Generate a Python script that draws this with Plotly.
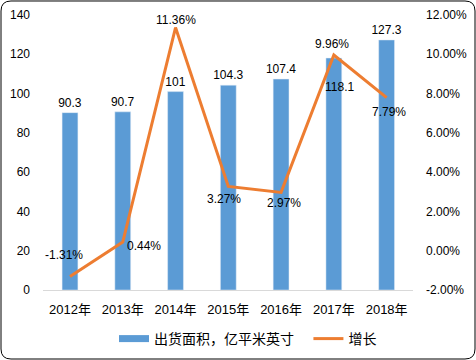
import plotly.graph_objects as go

years = ["2012年", "2013年", "2014年", "2015年", "2016年", "2017年", "2018年"]
area = [90.3, 90.7, 101, 104.3, 107.4, 118.1, 127.3]
growth = [-1.31, 0.44, 11.36, 3.27, 2.97, 9.96, 7.79]
left_ticks = [0, 20, 40, 60, 80, 100, 120, 140]
right_ticks = [-2, 0, 2, 4, 6, 8, 10, 12]

BLUE = "#5B9BD5"
ORANGE = "#ED7D31"
FONT = "Liberation Sans, Noto Sans CJK SC, sans-serif"

W, H = 476, 360
ML, MR, MT, MB = 43, 63, 15, 70
PW, PH = W - ML - MR, H - MT - MB

# label offsets (pixels) for the growth labels
line_shift = [(-6, 21), (21, -4), (0, 8), (-4, -13), (3, -11), (-2, 11), (2, -14)]

bar_pos = ["none" if i == 5 else "outside" for i in range(len(area))]

fig = go.Figure()
fig.add_trace(go.Bar(
    x=years, y=area, name="出货面积，亿平米英寸", showlegend=False,
    marker_color=BLUE, text=[f"{v:g}" for v in area],
    textposition=bar_pos, textfont=dict(color="#000", size=12, family=FONT),
    constraintext="none", cliponaxis=False, yaxis="y",
))
# legend proxy so the bar series shows a wide swatch like the original
fig.add_trace(go.Scatter(
    x=[None], y=[None], name="出货面积，亿平米英寸\u00a0\u00a0\u00a0", mode="lines",
    line=dict(color=BLUE, width=7), yaxis="y", hoverinfo="skip",
))
fig.add_trace(go.Scatter(
    x=years, y=growth, name="增长", mode="lines",
    line=dict(color=ORANGE, width=3), cliponaxis=False, yaxis="y2",
))
for i, (yr, g) in enumerate(zip(years, growth)):
    dx, dy = line_shift[i]
    fig.add_annotation(x=yr, y=g, xref="x", yref="y2", text=f"{g:.2f}%",
                       showarrow=False, xshift=dx, yshift=dy,
                       font=dict(color="#000", size=12, family=FONT))
fig.add_annotation(x=years[5], y=area[5], xref="x", yref="y",
                   text=f"{area[5]:g}", showarrow=False, xshift=6, yshift=-29,
                   font=dict(color="#000", size=12, family=FONT))


def px(x, y):
    return ((x - ML) / PW, 1 - (y - MT) / PH)


def rounded_path(x0, y0, x1, y1, r):
    def P(x, y):
        a, b = px(x, y)
        return f"{a:.5f},{b:.5f}"
    d = f"M{P(x0 + r, y0)} L{P(x1 - r, y0)} Q{P(x1, y0)} {P(x1, y0 + r)} "
    d += f"L{P(x1, y1 - r)} Q{P(x1, y1)} {P(x1 - r, y1)} "
    d += f"L{P(x0 + r, y1)} Q{P(x0, y1)} {P(x0, y1 - r)} "
    d += f"L{P(x0, y0 + r)} Q{P(x0, y0)} {P(x0 + r, y0)} Z"
    return d


fig.add_shape(type="path", xref="paper", yref="paper",
              path=rounded_path(1, 1, 475, 359, 10),
              line=dict(color="#000", width=1), layer="above")

lx, ly = px(114, 339)
fig.update_layout(
    width=W, height=H,
    margin=dict(l=ML, r=MR, t=MT, b=MB, pad=0, autoexpand=False),
    paper_bgcolor="white", plot_bgcolor="white",
    font=dict(family=FONT, size=12, color="#000"),
    bargap=0.7,
    showlegend=True,
    legend=dict(orientation="h", x=lx, xanchor="left", y=ly, yanchor="middle",
                font=dict(size=14, family="Noto Sans CJK SC, sans-serif"),
                itemwidth=30, tracegroupgap=0, bgcolor="rgba(0,0,0,0)"),
    xaxis=dict(showline=True, linecolor="#D9D9D9", linewidth=1, ticks="",
               tickfont=dict(size=13), showgrid=False, automargin=False,
               ticklabelstandoff=7),
    yaxis=dict(range=[0, 140], tickvals=left_ticks, showgrid=False,
               zeroline=False, showline=False, ticklabelstandoff=12,
               automargin=False),
    yaxis2=dict(range=[-2, 12], tickvals=right_ticks,
                ticktext=[f"{v:.2f}%" for v in right_ticks],
                overlaying="y", side="right", showgrid=False, zeroline=False,
                showline=False, ticklabelstandoff=12, automargin=False),
)

fig.write_html("out.html", config={"displayModeBar": False},
               post_script="document.body.style.margin='0';"
                           "document.body.style.overflow='hidden';")
